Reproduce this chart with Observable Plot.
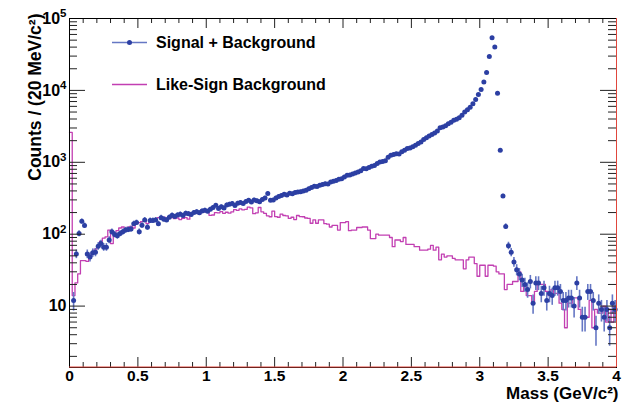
<!DOCTYPE html>
<html><head><meta charset="utf-8">
<script src="https://cdn.jsdelivr.net/npm/d3@7"></script>
<script src="https://cdn.jsdelivr.net/npm/@observablehq/plot@0.6"></script>
<style>
body{margin:0;background:#fff;}
#wrap{position:relative;width:622px;height:405px;}
#legend{position:absolute;left:0;top:0;pointer-events:none;}
#legend text{font-family:"Liberation Sans",Arial,Helvetica,sans-serif;font-weight:bold;font-size:16px;fill:#000;}
</style></head><body><div id="wrap"></div>
<svg id="legend" width="622" height="405"></svg>
<script>
// ---- data: 200 bins of 20 MeV/c^2 from 0 to 4 GeV/c^2 ----
const binWidth = 0.02;
const signalCounts = [
  null, 12, 53, 102, 151, 132, 53, 48, 55, 56, 68,
  74, 66, 66, 83, 108, 99, 95, 102, 108, 114,
  116, 118, 140, 145, 108, 133, 158, 125, 155, 155,
  158, 140, 170, 162, 158, 172, 183,
  176, 185, 190, 182, 195, 193, 188, 200, 205, 198, 210, 215, 208,
  222, 235, 252, 228, 240, 232, 255, 262, 267, 250,
  270, 276, 268, 285, 296, 280, 300, 292, 282, 305,
  320, 368, 296, 298, 320, 335, 345, 360, 352, 370,
  365, 380, 387, 390,
  398, 410, 430, 445, 465, 460,
  478, 490, 505, 500, 533, 545, 560, 580, 592, 625,
  660, 668, 690, 712, 735, 760, 820, 815, 850, 880,
  905, 960, 1010, 1030, 1050, 1180, 1250, 1280, 1320, 1300,
  1400, 1470, 1550, 1580, 1640, 1720, 1820,
  1910, 2070, 2200, 2320, 2430, 2560, 2720, 3030, 3100, 3230,
  3450, 3620, 3830, 3960, 4150, 4500, 5000, 5400, 5850, 6500,
  7500, 8800, 10300, 13100, 17800, 29700, 54000,
  40000, 9100, 1470, 340, 128, 69, 56, 41, 32,
  28, 23, 20, 17, 22, 11, 21, 21, 15, 18,
  12, 15, 14, 18, 18, 16, 12, 12, 13, 13,
  10, 21, 13, 7, 7, 16, 16, 12, 5, 11,
  9, 7, 9, 5, 11, 9
];
const likeSignCounts = [
  2600, 14, 21, 28, 43, 43, 42, 51, 56, 62,
  66, 80, 88, 92, 114, 74, 100, 112, 122, 126,
  118, 125, 128, 122, 140, 145, 150, 156, 140, 150,
  158, 165, 170, 165, 172, 168, 175, 170,
  165, 168, 160, 166, 170, 162, 190, 195, 205, 192,
  218, 204, 206, 183, 185, 200, 198, 206, 195, 202,
  196, 204, 220, 215, 225, 218, 222, 238, 232, 193,
  198, 235, 205, 195, 180, 175, 210, 176, 172, 190,
  182, 180, 166, 172, 160, 182, 176,
  175, 168, 166, 142, 158, 142, 158, 158, 140, 138,
  126, 133, 133, 114, 145, 145, 150, 112, 114, 114,
  124, 124, 126, 126, 114, 87, 87, 100, 97, 97,
  97, 97, 90, 67, 83, 83, 79, 90, 72, 72,
  72, 67, 67, 60, 60,
  60, 62, 70, 60, 66, 44, 53, 48, 50, 50,
  46, 44, 44, 44, 33, 44, 48, 48, 39, 26,
  37, 37, 26, 37, 37, 36, 30, 28, 28, 17,
  20, 20, 22, 22, 30, 16, 20, 14, 14, 11,
  16, 21, 20, 20, 16, 14, 17, 15, 15, 11,
  9, 5, 11, 11, 13, 13, 9, 7, 7, 7,
  12, 5, 9, 8, 8, 10, 6, 9, 6, 10
];
const xTickLabels = [0, 0.5, 1, 1.5, 2, 2.5, 3, 3.5, 4];
const yTickValues = [10, 100, 1000, 10000, 100000];
const xDomain = [0, 4];
const yDomain = [1.4, 100000];

// ---- build tables ----
const sig = signalCounts.map((v, i) => ({m: (i + 0.5) * binWidth, v})).filter(d => d.v != null && d.v > 0);
const bgStep = likeSignCounts.map((v, i) => ({m: i * binWidth, v}));
bgStep.push({m: likeSignCounts.length * binWidth, v: likeSignCounts[likeSignCounts.length - 1]});

const xMinor = d3.range(0, 41).map(k => k / 10).filter(t => !xTickLabels.some(M => Math.abs(M - t) < 1e-9));
const yMinor = [];
for (let e = 0; e <= 4; e++) for (let k = 2; k <= 9; k++) { const v = k * 10 ** e; if (v >= yDomain[0] && v <= yDomain[1]) yMinor.push(v); }

const W = 622, H = 405, mL = 69, mR = 6, mT = 18, mB = 38;
const pw = W - mL - mR, ph = H - mT - mB;
const tickCol = "#222";
const blue = "#2c3fa3", blueBar = "#6577c4", mag = "#c23fb2";

const chart = Plot.plot({
  width: W, height: H,
  marginLeft: mL, marginRight: mR, marginTop: mT, marginBottom: mB,
  style: {fontFamily: "'Liberation Sans', Arial, Helvetica, sans-serif", fontSize: "16px", fontWeight: "bold", color: "#000", background: "#fff", overflow: "visible"},
  x: {domain: xDomain},
  y: {type: "log", domain: yDomain},
  marks: [
    Plot.line(bgStep, {x: "m", y: "v", curve: "step-after", stroke: mag, strokeWidth: 1.3}),
    Plot.ruleX(sig, {x: "m", y1: d => Math.max(d.v - Math.sqrt(d.v), yDomain[0]), y2: d => d.v + Math.sqrt(d.v), stroke: blueBar, strokeWidth: 1.6}),
    Plot.dot(sig, {x: "m", y: "v", r: 2.5, fill: blue, stroke: "none"}),
    // inner ticks (ROOT style), bottom & top
    Plot.tickX(xTickLabels, {x: d => d, insetTop: ph - 10, stroke: tickCol}),
    Plot.tickX(xMinor, {x: d => d, insetTop: ph - 5, stroke: tickCol}),
    Plot.tickX(xTickLabels, {x: d => d, insetBottom: ph - 10, stroke: tickCol}),
    Plot.tickX(xMinor, {x: d => d, insetBottom: ph - 5, stroke: tickCol}),
    // left & right
    Plot.tickY(yTickValues, {y: d => d, insetRight: pw - 16, stroke: tickCol}),
    Plot.tickY(yMinor, {y: d => d, insetRight: pw - 8, stroke: tickCol}),
    Plot.tickY(yTickValues, {y: d => d, insetLeft: pw - 16, stroke: tickCol}),
    Plot.tickY(yMinor, {y: d => d, insetLeft: pw - 8, stroke: tickCol}),
    Plot.frame({stroke: "#000"}),
    Plot.ruleX([xDomain[1]], {stroke: "#e0463c", strokeWidth: 1}),
    Plot.ruleY([yDomain[0]], {stroke: "#e0463c", strokeWidth: 1, dy: -0.5}),
    Plot.axisX({ticks: xTickLabels, tickSize: 0, tickPadding: 2, tickFormat: d => String(d), label: null, fontSize: 15.5, fontWeight: "bold"}),
    Plot.axisY({ticks: yTickValues, tickSize: 0, tickPadding: 3, tickFormat: d => "E" + Math.round(Math.log10(d)), label: null, fontSize: 16, fontWeight: "bold"}),
    Plot.text(["Mass (GeV/c²)"], {frameAnchor: "bottom-right", textAnchor: "end", dy: 31, dx: 2, fontSize: 17, fontWeight: "bold"}),
    Plot.text(["Counts / (20 MeV/c²)"], {frameAnchor: "top-left", rotate: -90, textAnchor: "end", dx: -41, dy: -5, fontSize: 17.5, fontWeight: "bold"})
  ]
});

// superscript exponents on y tick labels
d3.select(chart).selectAll("g[aria-label='y-axis tick label'] text").each(function () {
  const t = this.textContent;
  if (!t.startsWith("E")) return;
  const e = +t.slice(1);
  const s = d3.select(this);
  s.text("10");
  if (e !== 1) s.append("tspan").attr("dy", "-0.55em").attr("font-size", "0.72em").text(String(e));
});

document.getElementById("wrap").appendChild(chart);

// legend
const lg = d3.select("#legend");
lg.append("line").attr("x1", 112).attr("x2", 147).attr("y1", 42.5).attr("y2", 42.5).attr("stroke", blueBar).attr("stroke-width", 1.6);
lg.append("circle").attr("cx", 129.5).attr("cy", 42.5).attr("r", 2.5).attr("fill", blue);
lg.append("text").attr("x", 156).attr("y", 42.5).attr("dy", "0.35em").text("Signal + Background");
lg.append("line").attr("x1", 112).attr("x2", 147).attr("y1", 84.5).attr("y2", 84.5).attr("stroke", mag).attr("stroke-width", 1.3);
lg.append("text").attr("x", 156).attr("y", 84).attr("dy", "0.35em").text("Like-Sign Background");
document.getElementById("wrap").appendChild(document.getElementById("legend"));
</script>
</body></html>
